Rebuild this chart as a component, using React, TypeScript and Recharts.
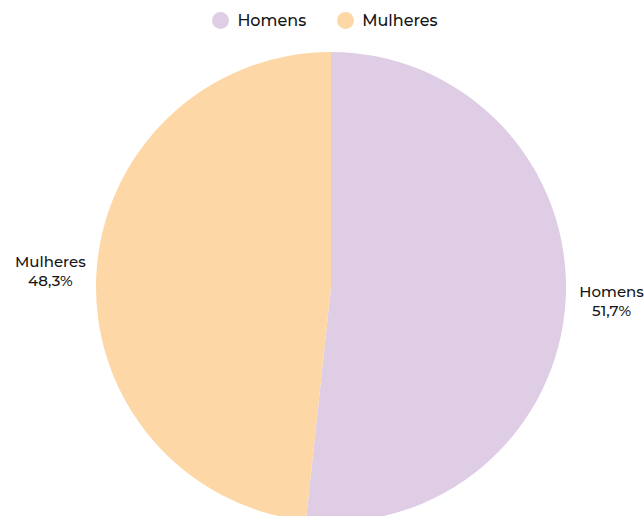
import { PieChart, Pie, Cell, Legend } from "recharts";

const categories = ["Homens", "Mulheres"];
const shares = [51.7, 48.3];
const colors = ["#dfcde6", "#fdd7a5"];

const data = categories.map((name, i) => ({ name, value: shares[i] }));

const FONT = "Montserrat, 'Open Sans', sans-serif";
const RAD = Math.PI / 180;

function renderLabel(props: any) {
  const { cx, cy, midAngle, outerRadius, name, value } = props;
  const r = outerRadius + 46;
  const x = cx + r * Math.cos(-midAngle * RAD);
  const y = cy + r * Math.sin(-midAngle * RAD);
  return (
    <text x={x} y={y} textAnchor="middle" fill="#151515" fontSize={15} fontWeight={500} fontFamily={FONT}>
      <tspan x={x} dy="-0.33em">{name}</tspan>
      <tspan x={x} dy="1.25em">{value.toFixed(1).replace(".", ",")}%</tspan>
    </text>
  );
}

function LegendContent() {
  return (
    <div style={{ display: "flex", justifyContent: "center", gap: 31, fontFamily: FONT, fontSize: 16, fontWeight: 500, color: "#151515", paddingLeft: 6 }}>
      {categories.map((c, i) => (
        <div key={c} style={{ display: "flex", alignItems: "center", gap: 8 }}>
          <span style={{ width: 17, height: 17, borderRadius: "50%", background: colors[i], display: "inline-block" }} />
          <span>{c}</span>
        </div>
      ))}
    </div>
  );
}

export default function App() {
  return (
    <div style={{ position: "absolute", left: 0, top: 0, background: "#fff" }}>
      <PieChart width={644} height={516}>
        <Legend verticalAlign="top" content={<LegendContent />} wrapperStyle={{ top: 11, left: 0, width: 644 }} />
        <Pie
          data={data}
          dataKey="value"
          nameKey="name"
          cx={326}
          cy={263}
          outerRadius={235}
          startAngle={90}
          endAngle={-270}
          stroke="none"
          label={renderLabel}
          labelLine={false}
          isAnimationActive={false}
        >
          {data.map((d, i) => (
            <Cell key={d.name} fill={colors[i]} />
          ))}
        </Pie>
      </PieChart>
    </div>
  );
}
